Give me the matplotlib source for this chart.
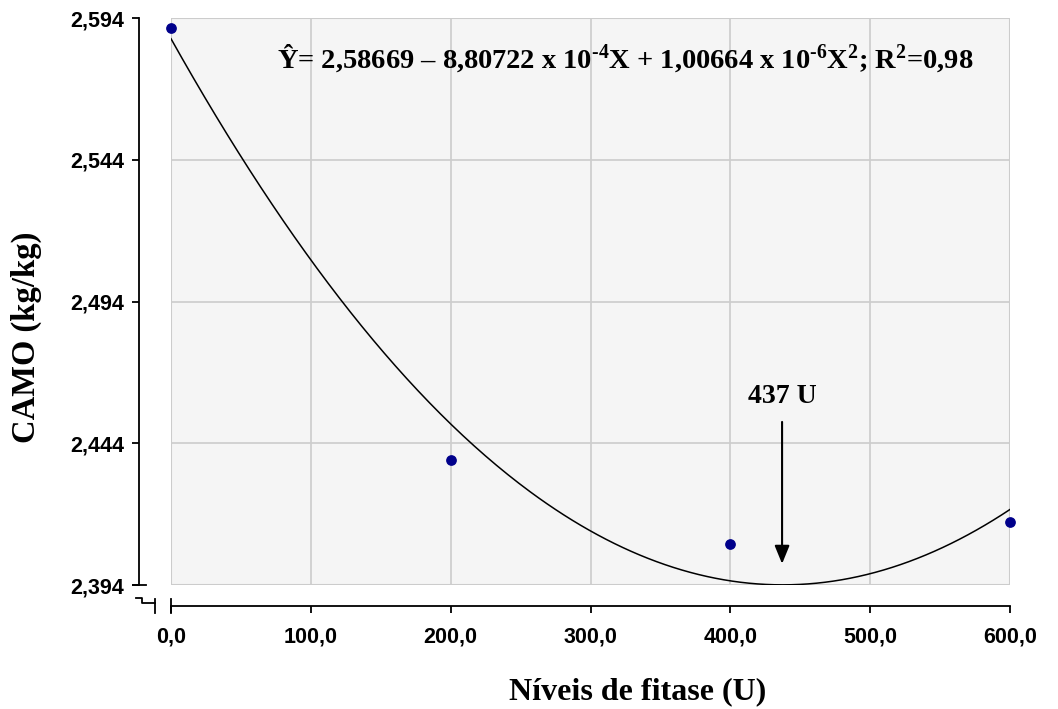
import matplotlib.pyplot as plt
import matplotlib.lines as mlines
import numpy as np

# observed means
niveis = [0, 200, 400, 600]
camo = [2.5905, 2.438, 2.4085, 2.4162]

# fitted quadratic (b0, b1, b2) as printed on the chart
coef = [2.58669, -8.80722e-4, 1.00664e-6]
x_min = 437

xticks = [0, 100, 200, 300, 400, 500, 600]
xticklabels = ['0,0', '100,0', '200,0', '300,0', '400,0', '500,0', '600,0']
yticks = [2.394, 2.444, 2.494, 2.544, 2.594]
yticklabels = ['2,394', '2,444', '2,494', '2,544', '2,594']

plt.rcParams['mathtext.fontset'] = 'custom'
plt.rcParams['mathtext.rm'] = 'Liberation Serif:bold'
plt.rcParams['mathtext.it'] = 'Liberation Serif:bold'
plt.rcParams['mathtext.bf'] = 'Liberation Serif:bold'

fig = plt.figure(figsize=(10.58, 7.09), dpi=100)
ax = fig.add_axes([171 / 1058, 1 - 585 / 709, 839 / 1058, 567 / 709])
ax.set_facecolor('#f5f5f5')

# spines first: set_position resets the ticks
ax.spines['top'].set_visible(False)
ax.spines['right'].set_visible(False)
ax.spines['left'].set_position(('outward', 23))
ax.spines['bottom'].set_position(('outward', 15))
for s in ['left', 'bottom']:
    ax.spines[s].set_linewidth(1.3)

xs = np.linspace(0, 600, 300)
ys = coef[0] + coef[1] * xs + coef[2] * xs ** 2
ax.plot(xs, ys, color='black', lw=1.1, zorder=3)
ax.scatter(niveis, camo, s=45, color='#00008b', zorder=4, clip_on=False)

ax.set_xlim(0, 600)
ax.set_ylim(2.394, 2.594)
ax.set_xticks(xticks)
ax.set_xticklabels(xticklabels, family='Liberation Sans', fontweight='bold', fontsize=15.5)
ax.set_yticks(yticks)
ax.set_yticklabels(yticklabels, family='Liberation Sans', fontweight='bold', fontsize=15.5)
ax.grid(True, color='#cccccc', lw=1.2)
ax.set_axisbelow(True)
ax.tick_params(axis='both', direction='out', length=5, width=1.3, color='black')
ax.tick_params(axis='x', pad=10)
ax.tick_params(axis='y', pad=6)

# light frame around plotting area
for xx in [0, 1]:
    ax.plot([xx, xx], [0, 1], transform=ax.transAxes, color='#cccccc', lw=1.5, zorder=1)
for yy in [0, 1]:
    ax.plot([0, 1], [yy, yy], transform=ax.transAxes, color='#cccccc', lw=1.5, zorder=1)

# axis break marks bottom-left (pixel coords)
def px(x, y):
    return x / 1058, 1 - y / 709

brk = [
    [(133, 585), (146, 585)],
    [(136, 598), (142, 598), (142, 603), (155, 603)],
    [(155, 599), (155, 613)],
    [(171, 599), (171, 613)],
]
for seg in brk:
    pts = [px(*p) for p in seg]
    fig.add_artist(mlines.Line2D([p[0] for p in pts], [p[1] for p in pts],
                                 color='black', lw=1.3))

ax.text(0.126, 0.93,
        r'Ŷ= 2,58669 – 8,80722 x 10$^{\text{-4}}$X + 1,00664 x 10$^{\text{-6}}$X$^{2}$; R$^{2}$=0,98',
        transform=ax.transAxes, family='Liberation Serif', fontweight='bold',
        fontsize=20.5, va='center', ha='left')

ax.annotate('', xy=(x_min, 2.4005), xytext=(x_min, 2.4525),
            arrowprops=dict(arrowstyle='-|>,head_width=0.45,head_length=1.1',
                            color='black', lw=1.5))
ax.text(x_min, 2.4605, '437 U', family='Liberation Serif', fontweight='bold',
        fontsize=20, ha='center', va='center')

fig.text(638 / 1058, 1 - 692 / 709, 'Níveis de fitase (U)', family='Liberation Serif',
         fontweight='bold', fontsize=23, ha='center', va='center')
fig.text(26 / 1058, 1 - 337 / 709, 'CAMO (kg/kg)', family='Liberation Serif',
         fontweight='bold', fontsize=23.5, ha='center', va='center', rotation=90)

fig.savefig('out.png', dpi=100)
